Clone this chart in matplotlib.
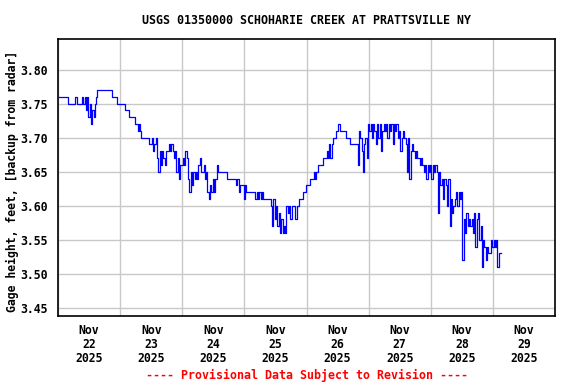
import matplotlib
matplotlib.use("Agg")
import matplotlib.pyplot as plt
import pandas as pd

# gage height readings, every 30 minutes from Nov 22 2025 00:00
start = "2025-11-22 00:00"
step = "30min"
gage = [
    3.76, 3.76, 3.76, 3.76, 3.76, 3.76, 3.76, 3.76, 3.75, 3.75, 3.75, 3.75,
    3.75, 3.75, 3.76, 3.75, 3.75, 3.75, 3.75, 3.76, 3.75, 3.76, 3.74, 3.76,
    3.73, 3.75, 3.72, 3.74, 3.73, 3.75, 3.76, 3.77, 3.77, 3.77, 3.77, 3.77,
    3.77, 3.77, 3.77, 3.77, 3.77, 3.77, 3.76, 3.76, 3.76, 3.76, 3.75, 3.75,
    3.75, 3.75, 3.75, 3.75, 3.74, 3.74, 3.74, 3.73, 3.73, 3.73, 3.73, 3.73,
    3.72, 3.72, 3.71, 3.72, 3.71, 3.70, 3.70, 3.70, 3.70, 3.70, 3.70, 3.69,
    3.69, 3.70, 3.68, 3.69, 3.70, 3.67, 3.65, 3.68, 3.66, 3.68, 3.67, 3.66,
    3.68, 3.68, 3.69, 3.68, 3.69, 3.68, 3.67, 3.68, 3.65, 3.67, 3.64, 3.66,
    3.66, 3.67, 3.66, 3.68, 3.67, 3.64, 3.62, 3.65, 3.63, 3.65, 3.64, 3.65,
    3.64, 3.66, 3.67, 3.65, 3.65, 3.66, 3.64, 3.65, 3.62, 3.61, 3.63, 3.62,
    3.64, 3.62, 3.64, 3.66, 3.65, 3.65, 3.65, 3.65, 3.65, 3.65, 3.65, 3.64,
    3.64, 3.64, 3.64, 3.64, 3.64, 3.64, 3.63, 3.64, 3.62, 3.63, 3.63, 3.63,
    3.61, 3.63, 3.62, 3.62, 3.62, 3.62, 3.62, 3.62, 3.62, 3.61, 3.62, 3.61,
    3.62, 3.61, 3.62, 3.61, 3.61, 3.61, 3.61, 3.61, 3.61, 3.60, 3.57, 3.61,
    3.58, 3.60, 3.57, 3.59, 3.56, 3.58, 3.56, 3.57, 3.56, 3.60, 3.59, 3.60,
    3.58, 3.60, 3.60, 3.60, 3.58, 3.60, 3.60, 3.61, 3.61, 3.61, 3.62, 3.62,
    3.63, 3.63, 3.63, 3.64, 3.64, 3.64, 3.65, 3.64, 3.65, 3.66, 3.66, 3.66,
    3.66, 3.67, 3.67, 3.67, 3.68, 3.67, 3.69, 3.67, 3.69, 3.70, 3.70, 3.71,
    3.71, 3.72, 3.71, 3.71, 3.71, 3.71, 3.71, 3.70, 3.70, 3.70, 3.69, 3.69,
    3.69, 3.69, 3.69, 3.69, 3.66, 3.71, 3.70, 3.68, 3.65, 3.69, 3.70, 3.67,
    3.72, 3.71, 3.72, 3.70, 3.72, 3.71, 3.69, 3.72, 3.70, 3.72, 3.68, 3.71,
    3.72, 3.71, 3.72, 3.70, 3.72, 3.71, 3.72, 3.69, 3.72, 3.71, 3.72, 3.70,
    3.71, 3.68, 3.70, 3.71, 3.70, 3.69, 3.65, 3.70, 3.64, 3.68, 3.69, 3.68,
    3.67, 3.68, 3.67, 3.67, 3.66, 3.67, 3.66, 3.65, 3.66, 3.64, 3.66, 3.65,
    3.66, 3.64, 3.66, 3.65, 3.66, 3.65, 3.59, 3.65, 3.63, 3.64, 3.61, 3.64,
    3.63, 3.60, 3.64, 3.57, 3.61, 3.59, 3.60, 3.61, 3.62, 3.60, 3.62, 3.61,
    3.62, 3.52, 3.58, 3.56, 3.59, 3.57, 3.58, 3.57, 3.58, 3.56, 3.59, 3.54,
    3.58, 3.59, 3.55, 3.57, 3.51, 3.55, 3.54, 3.52, 3.54, 3.53, 3.53, 3.55,
    3.54, 3.55, 3.54, 3.55, 3.51, 3.53, 3.53,
]
yticks = [3.45, 3.50, 3.55, 3.60, 3.65, 3.70, 3.75, 3.80]
day_labels = ["Nov\n22\n2025", "Nov\n23\n2025", "Nov\n24\n2025", "Nov\n25\n2025",
              "Nov\n26\n2025", "Nov\n27\n2025", "Nov\n28\n2025", "Nov\n29\n2025"]

FONT = "DejaVu Sans Mono"
times = pd.date_range(start, periods=len(gage), freq=step)

fig = plt.figure(figsize=(5.76, 3.84), dpi=100)
ax = fig.add_axes([58 / 576, 1 - 316 / 384, 497 / 576, 277 / 384])

ax.plot(times, gage, color="#0000ff", linewidth=0.9, drawstyle="steps-mid", zorder=3)

ax.set_ylim(3.438, 3.845)
ax.set_xlim(pd.Timestamp("2025-11-22"), pd.Timestamp("2025-11-30"))

ax.set_yticks(yticks)
ax.set_yticklabels([f"{v:.2f}" for v in yticks])

# gridlines at midnight, labels at noon
midnights = pd.date_range("2025-11-22", "2025-11-30", freq="D")
noons = midnights[:-1] + pd.Timedelta(hours=12)
ax.set_xticks(midnights)
ax.set_xticklabels([])
ax.set_xticks(noons, minor=True)
ax.set_xticklabels(day_labels, minor=True, linespacing=1.1)

ax.grid(True, which="major", color="#c8c8c8", linewidth=1.0, zorder=0)
ax.tick_params(which="both", length=0)
ax.tick_params(axis="y", pad=7)
ax.tick_params(axis="x", which="minor", pad=6)
for lab in ax.get_yticklabels() + ax.get_xticklabels(minor=True):
    lab.set_fontfamily(FONT)
    lab.set_fontweight("bold")
    lab.set_fontsize(8.3)
for sp in ax.spines.values():
    sp.set_linewidth(1.2)
    sp.set_color("black")

fig.text(306.5 / 576, 1 - 20 / 384, "USGS 01350000 SCHOHARIE CREEK AT PRATTSVILLE NY",
         ha="center", va="center", fontsize=8.4, fontweight="bold", family=FONT)
fig.text(12 / 576, 1 - 181 / 384, "Gage height, feet, [backup from radar]",
         ha="center", va="center", rotation=90, fontsize=8.3, fontweight="bold", family=FONT)
fig.text(306.5 / 576, 1 - 375 / 384, "---- Provisional Data Subject to Revision ----",
         ha="center", va="center", fontsize=8.4, fontweight="bold", family=FONT, color="red")

fig.savefig("out.png", dpi=100)
